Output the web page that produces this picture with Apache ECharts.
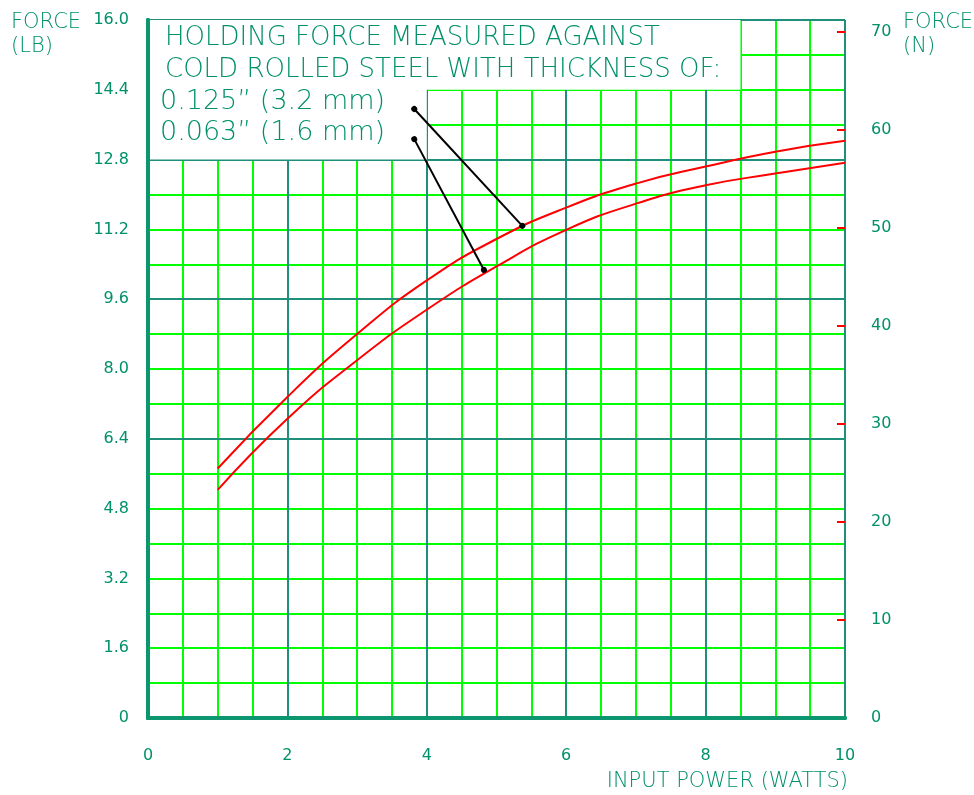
<!DOCTYPE html>
<html>
<head>
<meta charset="utf-8">
<title>Holding force vs input power</title>
<script src="https://cdn.jsdelivr.net/npm/echarts@6/dist/echarts.min.js"></script>
<style>
  html, body { margin: 0; padding: 0; background: #fff; }
  #chart { width: 974px; height: 795px; }
</style>
</head>
<body>
<div id="chart"></div>
<script>
// input power (W)
const power = [1, 2, 3, 4, 5, 6, 7, 8, 9, 10]
// holding force (LB) against 0.125" (3.2 mm) steel
const force125 = [5.72, 7.36, 8.80, 10.03, 10.98, 11.70, 12.25, 12.64, 12.98, 13.23]
// holding force (LB) against 0.063" (1.6 mm) steel
const force063 = [5.23, 6.86, 8.20, 9.36, 10.35, 11.19, 11.79, 12.21, 12.48, 12.73]

const yTickValues = [0, 1.6, 3.2, 4.8, 6.4, 8.0, 9.6, 11.2, 12.8, 14.4, 16.0]
const yTickLabels = ['0', '1.6', '3.2', '4.8', '6.4', '8.0', '9.6', '11.2', '12.8', '14.4', '16.0']
const newtonTicks = [10, 20, 30, 40, 50, 60, 70]
const LB_TO_N = 4.448222

// leader lines: [text end, curve end]
const leader125 = [[3.82, 13.96], [5.37, 11.28]]
const leader063 = [[3.82, 13.27], [4.82, 10.27]]

const TEAL = '#0b9670'
const TEXT = '#00906a'
const DARK = '#1f8f7c'
const GREEN = '#00ff00'
const PLOT_W = 974 - 148 - 129
const thin = { fontFamily: 'DejaVu Sans', fontWeight: 200, fill: TEXT }

const chart = echarts.init(document.getElementById('chart'))

const hidden = { axisLine: { show: false }, axisTick: { show: false }, axisLabel: { show: false } }

chart.setOption({
  animation: false,
  grid: { left: 148, right: 129, top: 20, bottom: 77 },
  xAxis: [
    {
      type: 'value', min: 0, max: 10, interval: 2, position: 'bottom', z: 5,
      axisLine: { lineStyle: { color: TEAL, width: 4 } },
      axisTick: { show: false },
      splitLine: { show: false },
      axisLabel: { color: TEXT, fontFamily: 'DejaVu Sans', fontSize: 16, margin: 30 }
    },
    Object.assign({ type: 'value', min: 0, max: 10, interval: 0.5, z: 0,
      splitLine: { lineStyle: { color: GREEN, width: 2 } } }, hidden),
    Object.assign({ type: 'value', min: 0, max: 10, interval: 2, z: 1,
      splitLine: { lineStyle: { color: DARK, width: 2 } } }, hidden),
    {
      type: 'value', min: 0, max: 10, position: 'top', z: 5,
      axisLine: { lineStyle: { color: TEAL, width: 4 } },
      axisTick: { show: false }, axisLabel: { show: false }, splitLine: { show: false }
    }
  ],
  yAxis: [
    {
      type: 'value', min: 0, max: 16, position: 'left', z: 5,
      axisLine: { show: true, lineStyle: { color: TEAL, width: 4 } },
      axisTick: { show: false },
      splitLine: { show: false },
      axisLabel: {
        customValues: yTickValues,
        formatter: v => yTickLabels[yTickValues.indexOf(v)],
        color: TEXT, fontFamily: 'DejaVu Sans', fontSize: 16, margin: 19
      }
    },
    Object.assign({ type: 'value', min: 0, max: 16, interval: 0.8, z: 0, position: 'left',
      splitLine: { lineStyle: { color: GREEN, width: 2 } } }, hidden),
    Object.assign({ type: 'value', min: 0, max: 16, interval: 3.2, z: 1, position: 'left',
      splitLine: { lineStyle: { color: [DARK, 'rgba(0,0,0,0)', DARK, DARK, DARK, DARK], width: 2 } } }, hidden),
    {
      // newton scale labels on the right
      type: 'value', min: 0, max: 16 * LB_TO_N, position: 'right', z: 5,
      axisLine: { show: true, lineStyle: { color: TEAL, width: 4 } },
      axisTick: { show: false },
      splitLine: { show: false },
      axisLabel: {
        customValues: [0].concat(newtonTicks),
        color: TEXT, fontFamily: 'DejaVu Sans', fontSize: 16, margin: 26
      }
    },
    {
      // red newton ticks, drawn just inside the right border
      type: 'value', min: 0, max: 16 * LB_TO_N, position: 'left', offset: -PLOT_W, z: 4,
      axisLine: { show: false },
      axisTick: { show: true, length: 8, customValues: newtonTicks, lineStyle: { color: '#ff0000', width: 2 } },
      axisLabel: { show: false },
      splitLine: { show: false }
    }
  ],
  series: [
    {
      name: '0.125"', type: 'line', smooth: true, showSymbol: false,
      data: power.map((p, i) => [p, force125[i]]),
      lineStyle: { color: '#ff0000', width: 2 },
      markArea: {
        silent: true,
        itemStyle: { color: '#ffffff', borderWidth: 0 },
        data: [
          [{ coord: [0, 16] }, { coord: [8.5, 14.4] }],
          [{ coord: [0, 16] }, { coord: [4, 12.8] }]
        ]
      },
      markLine: {
        silent: true,
        symbol: ['circle', 'circle'],
        symbolSize: 6,
        label: { show: false },
        lineStyle: { color: '#000', width: 2, type: 'solid' },
        data: [
          [{ coord: leader125[0] }, { coord: leader125[1] }],
          [{ coord: leader063[0] }, { coord: leader063[1] }]
        ]
      }
    },
    {
      name: '0.063"', type: 'line', smooth: true, showSymbol: false,
      data: power.map((p, i) => [p, force063[i]]),
      lineStyle: { color: '#ff0000', width: 2 }
    }
  ],
  graphic: [
    { type: 'text', left: 11, top: 11, style: Object.assign({ text: 'FORCE\n(LB)', fontSize: 21, lineHeight: 24 }, thin) },
    { type: 'text', left: 903, top: 11, style: Object.assign({ text: 'FORCE\n(N)', fontSize: 21, lineHeight: 24 }, thin) },
    { type: 'text', right: 126, top: 771, style: Object.assign({ text: 'INPUT POWER (WATTS)', fontSize: 21 }, thin) },
    { type: 'text', left: 165, top: 25, z: 10, style: Object.assign({ text: 'HOLDING FORCE MEASURED AGAINST', fontSize: 26 }, thin) },
    { type: 'text', left: 165, top: 57, z: 10, style: Object.assign({ text: 'COLD ROLLED STEEL WITH THICKNESS OF:', fontSize: 26 }, thin) },
    { type: 'text', left: 160, top: 88, z: 10, style: Object.assign({ text: '0.125\u201D (3.2 mm)', fontSize: 27 }, thin) },
    { type: 'text', left: 160, top: 119, z: 10, style: Object.assign({ text: '0.063\u201D (1.6 mm)', fontSize: 27 }, thin) }
  ]
})
</script>
</body>
</html>
